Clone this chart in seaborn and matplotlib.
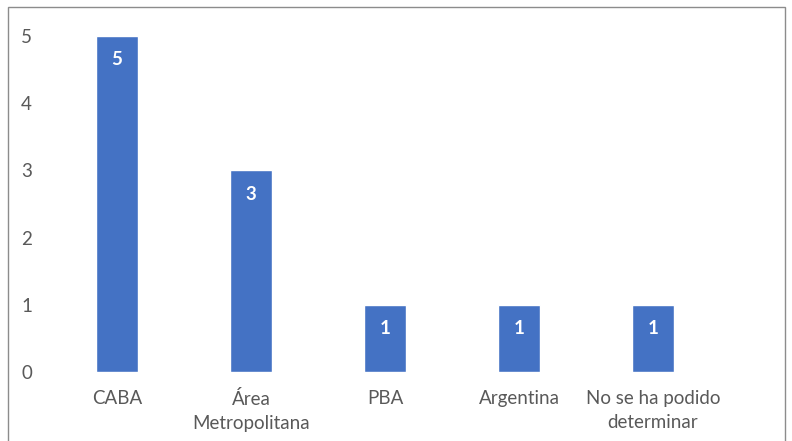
import matplotlib
matplotlib.use("Agg")
import matplotlib.pyplot as plt
import seaborn as sns
import pandas as pd
from matplotlib.patches import Rectangle

categories = ["CABA", "Área\nMetropolitana", "PBA", "Argentina", "No se ha podido\ndeterminar"]
values = [5, 3, 1, 1, 1]
yticks = [0, 1, 2, 3, 4, 5]

sns.set_theme(style="white")
plt.rcParams['font.family'] = ['Lato', 'DejaVu Sans']

W, H = 792, 441
fig = plt.figure(figsize=(W / 100, H / 100), dpi=100)
ax = fig.add_axes([50 / W, (H - 372) / H, 670 / W, 336 / H])

df = pd.DataFrame({"cat": categories, "val": values})
sns.barplot(data=df, x="cat", y="val", color="#4472C4", width=0.313, saturation=1, ax=ax)

ax.set_ylim(0, 5)
ax.set_xlim(-0.5, 4.5)
ax.set_yticks(yticks)
ax.set_yticklabels([str(t) for t in yticks])
ax.set_xlabel("")
ax.set_ylabel("")
for s in ax.spines.values():
    s.set_visible(False)
ax.tick_params(axis="both", length=0, colors="#595959", labelsize=13.5)
ax.tick_params(axis="x", pad=13)
ax.tick_params(axis="y", pad=13)
for lab in ax.get_xticklabels():
    lab.set_linespacing(1.5)

for i, v in enumerate(values):
    ax.annotate(str(v), xy=(i, v), xytext=(0, -17), textcoords="offset points",
                ha="center", va="center", color="white", fontweight="bold", fontsize=13.5)

fig.patches.append(Rectangle((8 / W, -0.05), 777 / W, (H - 7) / H + 0.05,
                             transform=fig.transFigure, fill=False,
                             edgecolor="#8c8c8c", linewidth=1.0))

fig.savefig("out.png", dpi=100, facecolor="white")
